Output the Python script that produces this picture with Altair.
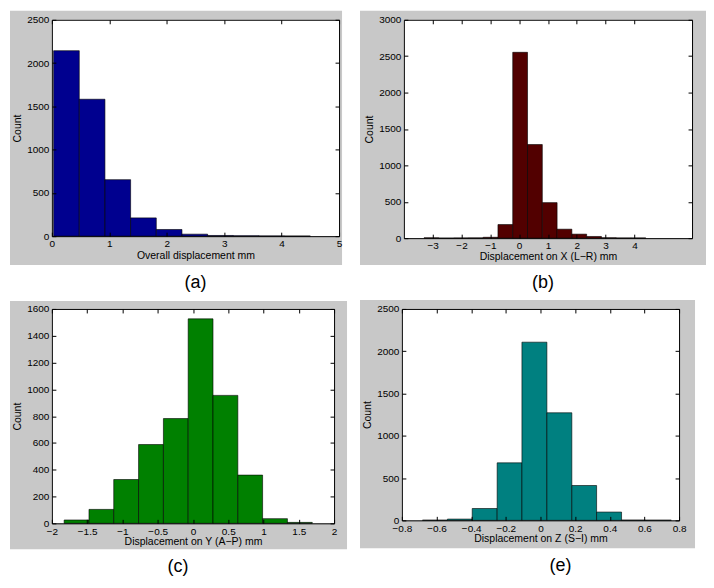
import altair as alt
import pandas as pd

# ---------------- data ----------------
a_edges = [0.03, 0.477, 0.924, 1.371, 1.818, 2.265, 2.712, 3.159, 3.606, 4.053, 4.5]
a_counts = [2143, 1582, 653, 211, 77, 23, 8, 5, 3, 2]

b_edges = [-3.3, -2.787, -2.274, -1.761, -1.248, -0.735, -0.222, 0.291, 0.804,
           1.317, 1.83, 2.343, 2.856, 3.369, 3.882, 4.395]
b_counts = [5, 1, 3, 4, 12, 187, 2553, 1286, 488, 123, 55, 23, 6, 3, 3]

c_edges = [-1.826, -1.474, -1.123, -0.771, -0.419, -0.068, 0.284, 0.636, 0.987, 1.339, 1.691]
c_counts = [25, 104, 327, 588, 782, 1526, 955, 360, 35, 7]

e_edges = [-0.681, -0.537, -0.394, -0.250, -0.107, 0.037, 0.181, 0.324, 0.468, 0.611, 0.755]
e_counts = [3, 15, 140, 680, 2107, 1272, 412, 98, 4, 3]

a_xticks = [0, 1, 2, 3, 4, 5]
b_xticks = [-3, -2, -1, 0, 1, 2, 3, 4]
c_xticks = [-2, -1.5, -1, -0.5, 0, 0.5, 1, 1.5, 2]
e_xticks = [-0.8, -0.6, -0.4, -0.2, 0, 0.2, 0.4, 0.6, 0.8]

a_yticks = [0, 500, 1000, 1500, 2000, 2500]
b_yticks = [0, 500, 1000, 1500, 2000, 2500, 3000]
c_yticks = [0, 200, 400, 600, 800, 1000, 1200, 1400, 1600]
e_yticks = [0, 500, 1000, 1500, 2000, 2500]

FONT = "Liberation Sans"
GRAY = "#c8c8c8"
TICK_IN = {"expr": "-4"}

AX = dict(zindex=2, labelFont=FONT, titleFont=FONT, labelFontSize=10, titleFontSize=10.5,
          labelColor="black", titleColor="black", titleFontWeight="normal",
          domainColor="black", tickColor="black", domainWidth=1, tickWidth=1,
          tickSize=TICK_IN, grid=False)


def panel(edges, counts, color, xdom, xticks, ydom, yticks, xtitle, label,
          W, H, gl, gr, gt, gb, tdx, xlp, xtp):
    df = pd.DataFrame({"x0": edges[:-1], "x1": edges[1:], "count": counts})
    one = alt.Data(values=[{"k": 1}])
    gray = alt.Chart(one).mark_rect(color=GRAY).encode(
        x=alt.value(-gl), x2=alt.value(W + gr), y=alt.value(-gt), y2=alt.value(H + gb))
    white = alt.Chart(one).mark_rect(color="white").encode(
        x=alt.value(0), x2=alt.value(W), y=alt.value(0), y2=alt.value(H))
    xs = alt.Scale(domain=xdom, nice=False, zero=False)
    ys = alt.Scale(domain=ydom, nice=False)
    bars = alt.Chart(df).mark_rect(color=color, stroke="black", strokeWidth=0.6).encode(
        x=alt.X("x0:Q", scale=xs, axis=alt.Axis(values=xticks, title=xtitle, orient="bottom",
                                                 format="~g", labelFlush=False,
                                                 labelPadding=xlp, titlePadding=xtp, **AX)),
        x2="x1:Q",
        y=alt.Y("count:Q", scale=ys, axis=alt.Axis(values=yticks, title="Count", orient="left",
                                                    format="d", labelFlush=False,
                                                    labelPadding=7, titlePadding=4, **AX)),
        y2=alt.datum(0),
    )
    frame = alt.Chart(df).mark_rect(opacity=0).encode(
        x=alt.X("x0:Q", scale=xs, axis=alt.Axis(values=xticks, title=None, orient="top",
                                                 labels=False, **AX)),
        x2="x1:Q",
        y=alt.Y("count:Q", scale=ys, axis=alt.Axis(values=yticks, title=None, orient="right",
                                                    labels=False, **AX)),
        y2=alt.datum(0),
    )
    return alt.layer(gray, white, bars, frame).resolve_axis(
        x="independent", y="independent"
    ).properties(
        width=W, height=H,
        title=alt.TitleParams(label, orient="bottom", fontSize=18, font=FONT,
                              fontWeight="normal", offset=9, dx=tdx, color="black"),
    )


pa = panel(a_edges, a_counts, "#00008f", [0, 5], a_xticks, [0, 2500], a_yticks,
           "Overall displacement mm", "(a)", 288, 217, 42, 3, 9, 29, 0, 6, 2)
pb = panel(b_edges, b_counts, "#520000", [-4, 6], b_xticks, [0, 3000], b_yticks,
           "Displacement on X (L\u2212R) mm", "(b)", 289, 219, 44, 14, 9, 27, -5, 6, 1)
pc = panel(c_edges, c_counts, "#008000", [-2, 2], c_xticks, [0, 1600], c_yticks,
           "Displacement on Y (A\u2212P) mm", "(c)", 283, 215, 42, 13, 8, 26, -15, 7, 0)
pe = panel(e_edges, e_counts, "#008080", [-0.8, 0.8], e_xticks, [0, 2500], e_yticks,
           "Displacement on Z (S\u2212I) mm", "(e)", 278, 212, 42, 16, 9, 28, 20, 7, 0)

row1 = alt.hconcat(pa, pb, spacing=18)
row2 = alt.hconcat(pc, pe, spacing=13)

chart = alt.vconcat(row1, row2, spacing=8).properties(
    padding={"left": 2, "top": 2, "right": 0, "bottom": 0},
    background="white",
).configure_view(strokeWidth=0)

chart.save("out.html", embed_options={"renderer": "svg", "actions": False})
